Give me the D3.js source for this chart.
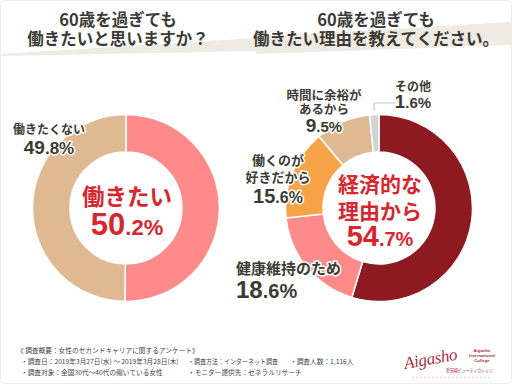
<!DOCTYPE html>
<html><head><meta charset="utf-8">
<script src="https://cdn.jsdelivr.net/npm/d3@7"></script>
<style>
html,body{margin:0;padding:0;background:#fff;}
svg{display:block;font-family:"Noto Sans CJK JP","Noto Sans",sans-serif;}
.lab{font-weight:700;fill:#3b3b33;stroke:#fff;stroke-width:3px;paint-order:stroke;stroke-linejoin:round;}
.num{font-family:"Liberation Sans","Noto Sans",sans-serif;}
</style></head><body>
<script>
// ---- data ----
const leftCategories = ["働きたい", "働きたくない"];
const leftValues = [50.2, 49.8];
const leftColors = ["#ff8a8a", "#dfb992"];
const rightCategories = ["経済的な理由から", "健康維持のため", "働くのが好きだから", "時間に余裕があるから", "その他"];
const rightValues = [54.7, 18.6, 15.6, 9.5, 1.6];
const rightColors = ["#8c1a20", "#ff8a8a", "#f7a347", "#dfb992", "#d2d4d4"];
const titleLeft = ["60歳を過ぎても", "働きたいと思いますか？"];
const titleRight = ["60歳を過ぎても", "働きたい理由を教えてください。"];
const footerLines = [
  "《 調査概要：女性のセカンドキャリアに関するアンケート》",
  "・調査日：2019年3月27日(水) ～ 2019年3月28日(木)",
  "・調査方法：インターネット調査",
  "・調査人数：1,116人",
  "・調査対象：全国30代～40代の働いている女性",
  "・モニター提供先：ゼネラルリサーチ"
];

const W = 512, H = 384;
const svg = d3.select("body").append("svg").attr("width", W).attr("height", H);
svg.append("rect").attr("x",0.5).attr("y",0.5).attr("width",W-1).attr("height",H-1).attr("rx",4)
  .attr("fill","#fff").attr("stroke","#ececec");

// banners
svg.append("path").attr("d","M0,54 L256,38 L256,51 L0,56 Z").attr("fill","#efebe3");
svg.append("path").attr("d","M256,37 L512,22 L512,45 L256,54 Z").attr("fill","#efebe3");

function title(lines, cx) {
  const t = svg.append("g");
  lines.forEach((s, i) => {
    t.append("text").attr("x", cx).attr("y", 26 + i * 19).attr("text-anchor","middle")
      .attr("font-size", 16.5).attr("font-weight", 700).attr("fill", "#3a3a34").text(s);
  });
}
title(titleLeft, 118);
title(titleRight, 376);

function donut(cx, cy, values, colors) {
  const pie = d3.pie().sort(null).value(d => d)(values);
  const arc = d3.arc().innerRadius(56).outerRadius(93.5);
  svg.append("g").attr("transform", `translate(${cx},${cy})`)
    .selectAll("path").data(pie).join("path")
    .attr("d", arc).attr("fill", (d, i) => colors[i])
    .attr("stroke", "#fff").attr("stroke-width", 1.5);
}
donut(126, 208, leftValues, leftColors);
donut(379, 208, rightValues, rightColors);

function fmt(v) { const s = v.toFixed(1).split("."); return [s[0], "." + s[1] + "%"]; }

function label(lines, value, x, y0, opt) {
  const g = svg.append("g");
  const anchor = opt.anchor || "middle";
  lines.forEach((s, i) => {
    g.append("text").attr("class", "lab").attr("x", x).attr("y", y0 + i * opt.lh)
      .attr("text-anchor", anchor).attr("font-size", opt.fs)
      .style("fill", opt.color || null).text(s);
  });
  const p = fmt(value);
  const t = g.append("text").attr("class", "lab num").attr("x", x).attr("y", opt.ny)
    .attr("text-anchor", anchor).style("fill", opt.color || null);
  t.append("tspan").attr("font-size", opt.big).text(p[0]);
  t.append("tspan").attr("font-size", opt.small).text(p[1]);
}

// left chart labels
label(["働きたくない"], leftValues[1], 49, 134, {fs: 12, lh: 0, ny: 154, big: 19, small: 17});
label(["働きたい"], leftValues[0], 127, 205, {fs: 22.5, lh: 0, ny: 235, big: 31, small: 22, color: "#d8262f"});

// right chart labels
label(["経済的な", "理由から"], rightValues[0], 380, 192, {fs: 21, lh: 27, ny: 246, big: 29, small: 20, color: "#d8262f"});
label(["健康維持のため"], rightValues[1], 236, 274, {fs: 15, lh: 0, ny: 298, big: 24, small: 20, anchor: "start"});
label(["働くのが", "好きだから"], rightValues[2], 278, 165, {fs: 13, lh: 17, ny: 203, big: 20, small: 16});
label(["時間に余裕が", "あるから"], rightValues[3], 324, 100, {fs: 12.5, lh: 14, ny: 132, big: 19, small: 15});
label(["その他"], rightValues[4], 413, 91, {fs: 12, lh: 0, ny: 108, big: 19, small: 15});

// leader line for その他
svg.append("path").attr("d","M374,111 V103 H395").attr("fill","none").attr("stroke","#c9cbcb").attr("stroke-width",1.2);

// footer
const ft = svg.append("g").attr("font-size", 6.7).attr("fill", "#444");
ft.append("text").attr("x", 17).attr("y", 353).text(footerLines[0]);
ft.append("text").attr("x", 21).attr("y", 364).text(footerLines[1]);
ft.append("text").attr("x", 188).attr("y", 364).attr("textLength", 90).attr("lengthAdjust","spacingAndGlyphs").text(footerLines[2]);
ft.append("text").attr("x", 290).attr("y", 364).text(footerLines[3]);
ft.append("text").attr("x", 21).attr("y", 374.5).text(footerLines[4]);
ft.append("text").attr("x", 188).attr("y", 374.5).text(footerLines[5]);

// logo
const lg = svg.append("g");
lg.append("text").attr("x", 405).attr("y", 369).attr("font-family", "'Liberation Serif',serif")
  .attr("font-style", "italic").attr("font-size", 17).attr("fill", "#a8303a")
  .attr("transform", "rotate(-10,405,369)").attr("textLength", 54).text("Aigasho");
const sm = ["Aigasho", "International", "College"];
sm.forEach((s, i) => {
  lg.append("text").attr("x", 482).attr("y", 352 + i * 5).attr("text-anchor","middle")
    .attr("font-family","'Liberation Sans',sans-serif").attr("font-weight",700)
    .attr("font-size", 4.3).attr("fill", "#a8303a").text(s);
});
lg.append("text").attr("x", 446).attr("y", 371.5).attr("font-size", 4.6).attr("fill", "#a8303a")
  .attr("textLength", 47).attr("lengthAdjust", "spacingAndGlyphs").text("愛賀翔ビューティカレッジ");
lg.append("line").attr("x1", 412).attr("x2", 490).attr("y1", 377.5).attr("y2", 377.5)
  .attr("stroke", "#f2b8bd").attr("stroke-width", 1.2).attr("stroke-dasharray", "1.5,2.5");
</script>
</body></html>
